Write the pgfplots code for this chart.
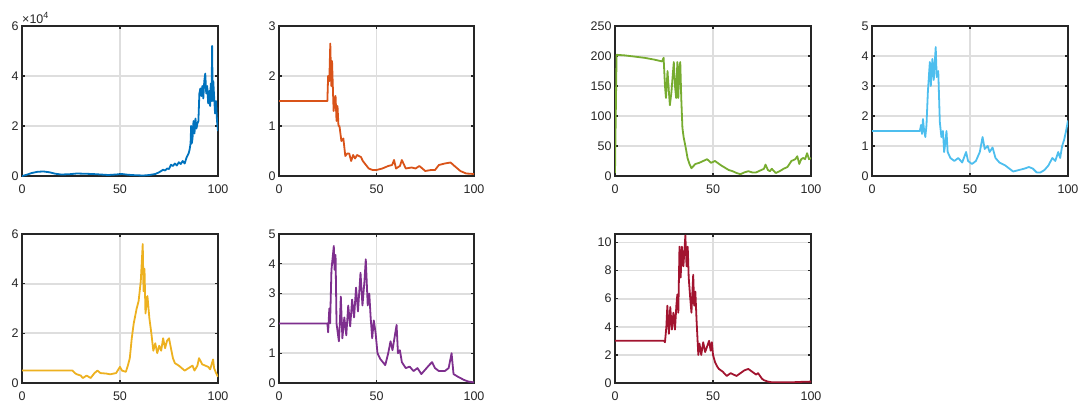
\documentclass[border=0pt]{standalone}
\usepackage{pgfplots}
\pgfplotsset{compat=1.18}
\usepackage{fontspec}
\setmainfont{Liberation Sans}
\definecolor{c1}{rgb}{0,0.447,0.741}
\definecolor{c2}{rgb}{0.85,0.325,0.098}
\definecolor{c3}{rgb}{0.929,0.694,0.125}
\definecolor{c4}{rgb}{0.494,0.184,0.556}
\definecolor{c5}{rgb}{0.466,0.674,0.188}
\definecolor{c6}{rgb}{0.301,0.745,0.933}
\definecolor{c7}{rgb}{0.635,0.078,0.184}
\definecolor{axc}{rgb}{0.15,0.15,0.15}
\pgfplotsset{
  mstyle/.style={
    scale only axis, width=196pt, height=150pt,
    xmin=0, xmax=100, ymin=0,
    xtick={0,50,100},
    grid=major,
    grid style={line width=1.8pt, color=black!13},
    axis line style={line width=1.6pt, color=axc},
    tick style={line width=1.3pt, color=axc},
    major tick length=3pt,
    tick align=inside,
    ticklabel style={font=\fontsize{12.5}{14}\selectfont, color=axc},
    /pgf/number format/assume math mode=true,
    xticklabel style={yshift=-5.5pt},
    yticklabel style={xshift=0pt},
    every axis plot/.append style={line width=1.8pt, line join=round},
    anchor=south west,
  }
}
\begin{document}
\begin{tikzpicture}
\useasboundingbox (0pt,0pt) rectangle (1078pt,405pt);
% 1
\begin{axis}[mstyle, name=ax1, at={(22pt,229pt)}, ymax=60000, ytick={0,20000,40000,60000}, yticklabels={0,2,4,6}, scaled y ticks=false]
\addplot[c1] coordinates {(0,0) (2,400) (5,1200) (8,1700) (11,1800) (14,1500) (17,900) (20,600) (24,700) (28,1000) (32,900) (36,800) (40,600) (44,400) (48,600) (51,800) (54,500) (58,300) (62,200) (65,400) (68,800) (70,1500) (72,2500) (73,2200) (74,3000) (75,2800) (76,4500) (77,4000) (78,5000) (79,4200) (80,5500) (81,4800) (82,6000) (83,5000) (84,7500) (85,9000) (85.5,10500) (86,13000) (86.3,20000) (86.6,13000) (87,15000) (87.5,22000) (88,17000) (88.5,23000) (89,19000) (89.5,21000) (90,22000) (90.5,33000) (91,35000) (91.5,32000) (92,36000) (92.5,31000) (93,38000) (93.5,41000) (94,33000) (94.5,36000) (95,29000) (95.5,34000) (96,28000) (96.3,37000) (96.7,30000) (97,52000) (97.3,30000) (97.6,38000) (98,32000) (98.5,25000) (99,30000) (99.5,22000) (100,18000)};
\end{axis}
\node[anchor=south west, inner sep=0pt, yshift=2pt, font=\fontsize{12.5}{14}\selectfont, color=axc] at (ax1.north west) {×10\raisebox{0.45em}{\fontsize{9}{10}\selectfont 4}};
% 2
\begin{axis}[mstyle, at={(279pt,229pt)}, width=195pt, ymax=3, ytick={0,1,2,3}]
\addplot[c2] coordinates {(0,1.5) (24.8,1.5) (25.2,2.0) (25.8,1.9) (26.3,2.65) (26.8,1.8) (27.2,2.3) (28,1.3) (28.5,1.5) (29,1.6) (29.5,1.1) (30,1.4) (30.5,1.0) (31,1.0) (32,0.7) (33,0.75) (34,0.4) (35,0.45) (36,0.45) (37,0.3) (38,0.42) (39,0.35) (40,0.42) (42,0.38) (43,0.3) (44,0.25) (46,0.15) (48,0.12) (50,0.12) (53,0.15) (56,0.2) (58,0.22) (59,0.32) (60,0.15) (62,0.2) (63,0.32) (65,0.15) (68,0.17) (70,0.15) (72,0.2) (75,0.1) (78,0.12) (80,0.12) (82,0.22) (85,0.25) (88,0.27) (90,0.2) (93,0.1) (96,0.05) (100,0.04)};
\end{axis}
% 3
\begin{axis}[mstyle, at={(615pt,229pt)}, ymax=250, ytick={0,50,100,150,200,250}]
\addplot[c5] coordinates {(0,5) (0.8,202) (5,201) (10,199) (15,197) (20,194) (24,191) (24.8,197) (25.5,150) (26,130) (26.8,175) (27.5,140) (28,118) (28.8,140) (29.5,170) (30,190) (30.6,150) (31.2,130) (31.8,190) (32.3,130) (32.8,180) (33.3,190) (33.8,130) (34.4,80) (35,65) (35.6,55) (36.2,45) (37,30) (38,20) (39,13) (41,20) (43,22) (45,25) (47,28) (49,22) (51,25) (54,18) (56,14) (58,10) (60,8) (62,5) (64,3) (66,6) (68,8) (70,6) (72,6) (74,9) (76,12) (76.8,19) (78,10) (79,8) (80,12) (82,5) (84,8) (86,12) (88,15) (90,25) (92,28) (93,33) (94,20) (95,28) (96,30) (97,28) (98,38) (99,28) (100,30)};
\end{axis}
% 4
\begin{axis}[mstyle, at={(872pt,229pt)}, ymax=5, ytick={0,1,2,3,4,5}]
\addplot[c6] coordinates {(0,1.5) (24.4,1.5) (25,1.7) (25.5,1.4) (26,1.9) (26.6,1.5) (27.2,1.3) (27.8,1.7) (28.5,2.8) (29.5,3.8) (30,3.0) (30.8,3.9) (31.5,3.2) (32.5,4.3) (33,3.3) (33.8,3.5) (34.6,1.8) (35.4,1.3) (36.2,1.5) (36.8,0.8) (37.4,1.1) (38,1.5) (38.6,0.8) (40,0.6) (42,0.5) (44,0.6) (46,0.45) (48,0.8) (49,0.5) (51,0.4) (53,0.5) (55,0.8) (56.4,1.3) (57.5,0.9) (59,1.0) (60,0.8) (61.5,0.95) (63,0.6) (65,0.45) (68,0.35) (70,0.25) (72,0.15) (75,0.2) (78,0.25) (80,0.3) (82,0.25) (84,0.12) (86,0.12) (88,0.2) (90,0.35) (92,0.6) (93.5,0.5) (95,0.8) (96,0.6) (97,1.0) (98,1.2) (99,1.5) (100,1.85)};
\end{axis}
% 5
\begin{axis}[mstyle, at={(22pt,22pt)}, height=149pt, ymax=6, ytick={0,2,4,6}]
\addplot[c3] coordinates {(0,0.5) (25.8,0.5) (27,0.4) (28,0.35) (30,0.3) (31,0.2) (33,0.3) (35,0.2) (37,0.4) (38.5,0.5) (40,0.4) (43,0.38) (45,0.35) (48,0.4) (50,0.65) (51,0.5) (53,0.45) (54,0.7) (55,1.0) (56,1.8) (57,2.4) (58.5,3.0) (59.5,3.3) (60.6,4.1) (61.6,5.6) (62,3.7) (62.5,4.6) (63,2.8) (64,3.5) (65,2.6) (66,2.0) (67,1.3) (68,1.6) (69,1.2) (70,1.5) (71,1.3) (72,1.8) (73,1.4) (74,1.7) (75,1.8) (76,1.4) (77,1.0) (78,0.8) (80,0.7) (83,0.5) (85,0.6) (87,0.7) (88,0.5) (89.5,0.7) (90.3,1.0) (92,0.75) (95,0.65) (96,0.55) (97.5,0.95) (98,0.6) (99,0.4) (100,0.25)};
\end{axis}
% 6
\begin{axis}[mstyle, at={(279pt,22pt)}, width=195pt, height=149pt, ymax=5, ytick={0,1,2,3,4,5}]
\addplot[c4] coordinates {(0,2) (24.8,2) (25.2,1.7) (25.8,2.5) (26.2,2.0) (26.9,3.8) (28.1,4.6) (28.5,3.8) (29,4.3) (29.5,2.0) (30.7,1.4) (31.2,2.0) (31.7,2.9) (32.5,1.5) (33.5,2.2) (34.5,1.6) (35.5,2.6) (36.5,1.9) (37.5,2.8) (38.5,2.2) (39.5,3.2) (40.5,2.4) (41.8,3.7) (42.8,2.6) (43.8,3.4) (44.5,4.15) (45.5,2.6) (46.3,3.0) (47,2.2) (47.8,1.5) (48.6,2.1) (49.5,1.7) (50.5,1.0) (52,0.8) (54.5,0.6) (56,1.0) (57.2,1.4) (58.2,1.1) (60.3,1.95) (61,1.0) (62,1.1) (63,0.7) (65,0.5) (67,0.55) (69,0.4) (71,0.5) (73,0.3) (75,0.45) (77,0.6) (78.5,0.7) (80,0.5) (82,0.4) (85,0.4) (87,0.5) (88.5,1.0) (89.5,0.3) (92,0.2) (95,0.1) (97,0.05) (100,0.02)};
\end{axis}
% 7
\begin{axis}[mstyle, at={(615pt,22pt)}, height=149pt, ymax=10.6, ytick={0,2,4,6,8,10}]
\addplot[c7] coordinates {(0,3) (25,3) (25.5,2.9) (26.2,4.0) (26.7,5.5) (27.5,3.5) (28.2,5.4) (29,3.8) (29.8,5.0) (30.6,3.8) (31.3,5.5) (31.8,6.3) (32.3,5.0) (32.9,9.7) (33.5,7.5) (34.1,9.7) (34.9,8.3) (35.9,10.5) (36.5,8.3) (37.1,9.7) (37.6,7.5) (38.4,6.0) (39,5.0) (39.9,7.7) (40.4,5.5) (41,6.5) (41.6,4.5) (42.5,2.0) (43.1,2.8) (44,2.0) (45,2.9) (46,2.2) (47,2.6) (48,3.0) (48.8,2.3) (49.4,2.9) (50,2.0) (51,1.5) (52,1.2) (53,1.0) (55,0.8) (57,0.5) (59,0.7) (62,0.5) (64,0.7) (66,0.9) (68,1.0) (70,0.8) (72,0.6) (73,0.7) (75,0.3) (76,0.2) (78,0.1) (80,0.05) (90,0.05) (95,0.08) (100,0.1)};
\end{axis}
\end{tikzpicture}
\end{document}
